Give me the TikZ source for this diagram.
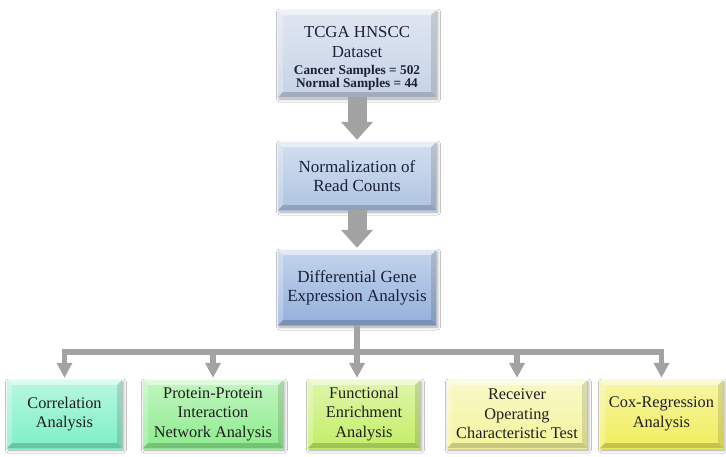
\documentclass[tikz,border=0pt]{standalone}
\usepackage{fontspec}
\setmainfont{Liberation Serif}
\usetikzlibrary{arrows.meta,shadows.blur,calc}

\definecolor{boxA}{HTML}{C6D3E6}
\definecolor{boxB}{HTML}{AFC4E1}
\definecolor{boxC}{HTML}{93B0DC}
\definecolor{boxD}{HTML}{7EF0C6}
\definecolor{boxE}{HTML}{8EEC8E}
\definecolor{boxF}{HTML}{C4EE66}
\definecolor{boxG}{HTML}{F4F49C}
\definecolor{boxH}{HTML}{F0EE5C}
\definecolor{arrowgray}{HTML}{A3A3A3}
\definecolor{navytext}{HTML}{1A2038}
\definecolor{darktext}{HTML}{1E1E1E}

\tikzset{
  bevelbox/.style={
    draw=none, align=center, inner sep=0pt,
    top color=#1!55!white, bottom color=#1,
    blur shadow={shadow xshift=1.5pt, shadow yshift=-2pt,
                 shadow blur radius=3pt, shadow opacity=35},
    path picture={
      \def\bv{5pt}
      \coordinate (nw) at (path picture bounding box.north west);
      \coordinate (ne) at (path picture bounding box.north east);
      \coordinate (sw) at (path picture bounding box.south west);
      \coordinate (se) at (path picture bounding box.south east);
      % lit top and left bevels
      \fill[white,opacity=.5] (nw) -- (ne) -- ([shift={(-\bv,-\bv)}]ne) -- ([shift={(\bv,-\bv)}]nw) -- cycle;
      \fill[white,opacity=.25] (nw) -- (sw) -- ([shift={(\bv,\bv)}]sw) -- ([shift={(\bv,-\bv)}]nw) -- cycle;
      % shaded right and bottom bevels
      \fill[black,opacity=.12] (ne) -- (se) -- ([shift={(-\bv,\bv)}]se) -- ([shift={(-\bv,-\bv)}]ne) -- cycle;
      \fill[black,opacity=.18] (sw) -- (se) -- ([shift={(-\bv,\bv)}]se) -- ([shift={(\bv,\bv)}]sw) -- cycle;
    }},
  midtext/.style={font=\fontsize{17}{19}\selectfont},
  lowtext/.style={font=\fontsize{16.3}{19.5}\selectfont},
  blockarrow/.style={draw=arrowgray, line width=19pt,
    -{Triangle[width=31pt,length=18pt]}, shorten >=2pt},
  treeline/.style={draw=arrowgray, line width=5.5pt, line join=miter,
    -{Triangle[width=15pt,length=15pt]}, shorten >=2pt},
}

\begin{document}
\begin{tikzpicture}[x=1pt,y=-1pt]
\fill[white] (0,0) rectangle (726,456);
\useasboundingbox (0,0) rectangle (726,456);

% main pipeline
\node[bevelbox=boxA, minimum width=158pt, minimum height=87pt, text=navytext,
      font=\fontsize{12}{12}\selectfont]
  (tcga) at (357,53.5)
  {{\fontsize{16.8}{12}\selectfont\rule{0pt}{21pt}TCGA HNSCC}\\[8pt]
   {\fontsize{16.8}{12}\selectfont Dataset}\\[5pt]
   {\fontsize{13.3}{12}\selectfont\bfseries Cancer Samples = 502}\\
   {\fontsize{13.3}{12}\selectfont\bfseries Normal Samples = 44}};

\node[bevelbox=boxB, minimum width=158pt, minimum height=68pt, text=navytext, midtext]
  (norm) at (357,176) {Normalization of\\Read Counts};

\node[bevelbox=boxC, minimum width=158pt, minimum height=75pt, text=navytext, midtext]
  (dge) at (357,287.5) {Differential Gene\\Expression Analysis};

% analyses
\node[bevelbox=boxD, minimum width=115pt, minimum height=68pt, text=darktext, lowtext]
  (corr) at (64.5,414) {Correlation\\Analysis};
\node[bevelbox=boxE, minimum width=140pt, minimum height=68pt, text=darktext, lowtext]
  (ppi) at (213,414) {Protein-Protein\\Interaction\\Network Analysis};
\node[bevelbox=boxF, minimum width=112pt, minimum height=68pt, text=darktext, lowtext]
  (func) at (364,414) {Functional\\Enrichment\\Analysis};
\node[bevelbox=boxG, minimum width=140pt, minimum height=68pt, text=darktext, lowtext]
  (roc) at (517,414) {Receiver\\Operating\\Characteristic Test};
\node[bevelbox=boxH, minimum width=123pt, minimum height=68pt, text=darktext, lowtext]
  (cox) at (661.5,414) {Cox-Regression\\Analysis};

% block arrows
\draw[blockarrow] (tcga.south) -- (norm.north);
\draw[blockarrow] (norm.south) -- (dge.north);

% branching connectors
\coordinate (bus) at (0,352);
\draw[treeline] (dge.south) |- (corr.north |- bus) -- (corr.north);
\draw[treeline] (dge.south) |- (ppi.north |- bus) -- (ppi.north);
\draw[treeline] (dge.south) -- (dge.south |- func.north);
\draw[treeline] (dge.south) |- (roc.north |- bus) -- (roc.north);
\draw[treeline] (dge.south) |- (cox.north |- bus) -- (cox.north);
\end{tikzpicture}
\end{document}
